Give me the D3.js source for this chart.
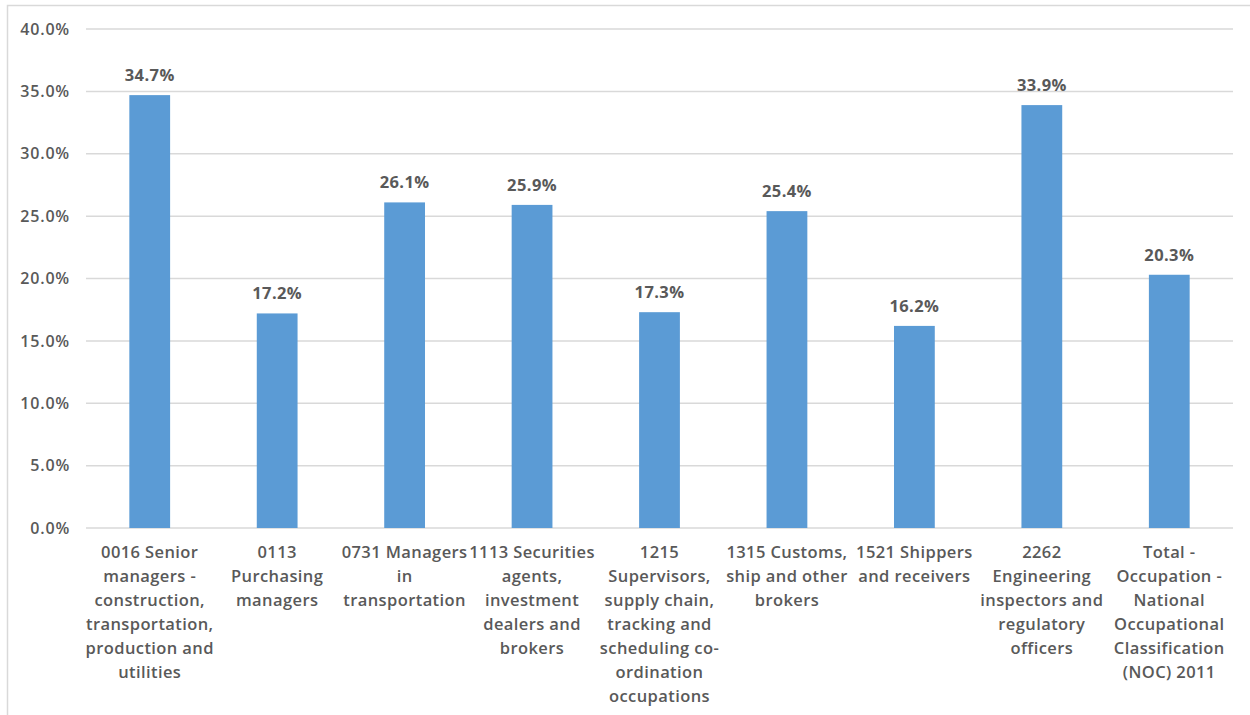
<!DOCTYPE html>
<html>
<head>
<meta charset="utf-8">
<script src="https://cdn.jsdelivr.net/npm/d3@7"></script>
<style>
  html, body { margin: 0; padding: 0; background: #fff; }
  svg { display: block; }
  text { font-family: "Open Sans", "Noto Sans", sans-serif; fill: #595959; }
</style>
</head>
<body>
<svg id="chart" width="1250" height="715"></svg>
<script>
// Occupation categories, each split into the lines shown under the axis
const categories = [
  ["0016 Senior", "managers -", "construction,", "transportation,", "production and", "utilities"],
  ["0113", "Purchasing", "managers"],
  ["0731 Managers", "in", "transportation"],
  ["1113 Securities", "agents,", "investment", "dealers and", "brokers"],
  ["1215", "Supervisors,", "supply chain,", "tracking and", "scheduling co-", "ordination", "occupations"],
  ["1315 Customs,", "ship and other", "brokers"],
  ["1521 Shippers", "and receivers"],
  ["2262", "Engineering", "inspectors and", "regulatory", "officers"],
  ["Total -", "Occupation -", "National", "Occupational", "Classification", "(NOC) 2011"]
];

// Share of each occupation, in percent
const values = [34.7, 17.2, 26.1, 25.9, 17.3, 25.4, 16.2, 33.9, 20.3];

// Y-axis tick values, in percent
const yTicks = [0, 5, 10, 15, 20, 25, 30, 35, 40];

const svg = d3.select("#chart");

const plot = { left: 86, right: 1233, top: 29, bottom: 528 };

// Outer chart frame
svg.append("rect")
  .attr("x", 7.5).attr("y", 5.5)
  .attr("width", 1260).attr("height", 740)
  .attr("fill", "none")
  .attr("stroke", "#d9d9d9")
  .attr("stroke-width", 1.5);

const x = d3.scaleBand()
  .domain(d3.range(categories.length))
  .range([plot.left, plot.right])
  .padding(0);

const y = d3.scaleLinear()
  .domain([0, 40])
  .range([plot.bottom, plot.top]);

const barWidth = x.bandwidth() * 0.32;

// Horizontal gridlines
svg.append("g")
  .selectAll("line")
  .data(yTicks)
  .join("line")
  .attr("x1", plot.left).attr("x2", plot.right)
  .attr("y1", d => y(d)).attr("y2", d => y(d))
  .attr("stroke", "#d9d9d9")
  .attr("stroke-width", 1.5);

// Y-axis labels
const yAxis = d3.axisLeft(y)
  .tickValues(yTicks)
  .tickFormat(d => d.toFixed(1) + "%")
  .tickSize(0)
  .tickPadding(16);

const gY = svg.append("g")
  .attr("transform", `translate(${plot.left},0)`)
  .call(yAxis);
gY.select(".domain").remove();
gY.selectAll("text")
  .attr("font-family", "Open Sans, sans-serif")
  .attr("font-size", 16)
  .attr("font-weight", 600)
  .attr("letter-spacing", 0.8)
  .attr("fill", "#595959");

// Bars
svg.append("g")
  .selectAll("rect")
  .data(values)
  .join("rect")
  .attr("x", (d, i) => x(i) + x.bandwidth() / 2 - barWidth / 2)
  .attr("y", d => y(d))
  .attr("width", barWidth)
  .attr("height", d => y(0) - y(d))
  .attr("fill", "#5b9bd5");

// Value labels above bars
svg.append("g")
  .selectAll("text")
  .data(values)
  .join("text")
  .attr("x", (d, i) => x(i) + x.bandwidth() / 2)
  .attr("y", d => y(d) - 14)
  .attr("text-anchor", "middle")
  .attr("font-size", 16.5)
  .attr("font-weight", 700)
  .attr("letter-spacing", 0.4)
  .text(d => d.toFixed(1) + "%");

// Category labels below the axis
const catG = svg.append("g")
  .selectAll("text")
  .data(categories)
  .join("text")
  .attr("text-anchor", "middle")
  .attr("font-size", 16.5)
  .attr("font-weight", 600)
  .attr("letter-spacing", 0.4);

catG.selectAll("tspan")
  .data((lines, i) => lines.map(l => ({ l, i })))
  .join("tspan")
  .attr("x", d => x(d.i) + x.bandwidth() / 2)
  .attr("y", (d, k) => plot.bottom + 30 + k * 24)
  .text(d => d.l);
</script>
</body>
</html>
